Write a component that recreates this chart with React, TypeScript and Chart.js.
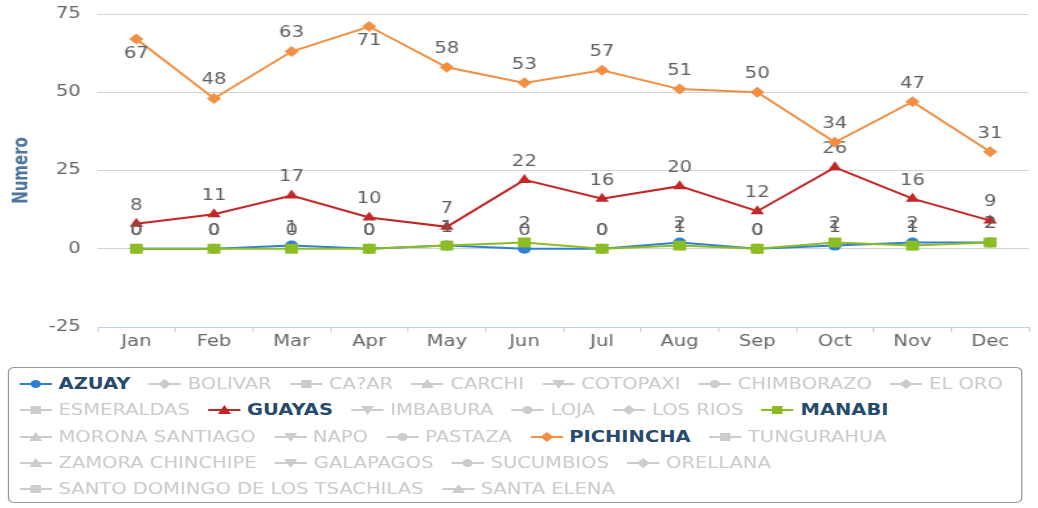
import React, { useEffect, useRef } from "react";
import { Chart, registerables } from "chart.js";

Chart.register(...registerables);

// ---------- data ----------
const months = ["Jan", "Feb", "Mar", "Apr", "May", "Jun", "Jul", "Aug", "Sep", "Oct", "Nov", "Dec"];
const azuay = [0, 0, 1, 0, 1, 0, 0, 2, 0, 1, 2, 2];
const guayas = [8, 11, 17, 10, 7, 22, 16, 20, 12, 26, 16, 9];
const manabi = [0, 0, 0, 0, 1, 2, 0, 1, 0, 2, 1, 2];
const pichincha = [67, 48, 63, 71, 58, 53, 57, 51, 50, 34, 47, 31];
const yTicks = [-25, 0, 25, 50, 75];
const yTitle = "Numero";

const provinces = [
  "AZUAY", "BOLIVAR", "CA?AR", "CARCHI", "COTOPAXI", "CHIMBORAZO", "EL ORO",
  "ESMERALDAS", "GUAYAS", "IMBABURA", "LOJA", "LOS RIOS", "MANABI",
  "MORONA SANTIAGO", "NAPO", "PASTAZA", "PICHINCHA", "TUNGURAHUA",
  "ZAMORA CHINCHIPE", "GALAPAGOS", "SUCUMBIOS", "ORELLANA",
  "SANTO DOMINGO DE LOS TSACHILAS", "SANTA ELENA",
];
const seriesValues: Record<string, number[]> = {
  AZUAY: azuay,
  GUAYAS: guayas,
  MANABI: manabi,
  PICHINCHA: pichincha,
};

// ---------- style ----------
const palette = ["#2f7ed8", "#0d233a", "#8bbc21", "#910000", "#1aadce", "#492970", "#f28f43", "#77a1e5", "#c42525", "#a6c96a"];
const markers = ["circle", "diamond", "square", "triangle", "triangle-down"];
const chartMarker: Record<string, string> = { circle: "circle", diamond: "rectRot", square: "rect", triangle: "triangle" };
const markerRadius: Record<string, number> = { circle: 5, diamond: 5.5, square: 7, triangle: 6 };
const legendRowCounts = [7, 6, 5, 4, 2];

const FONT = "'DejaVu Sans', Verdana, sans-serif";
const SX = 1.3;
const INNER_W = Math.round(1038 / SX);
const CANVAS_H = 360;

const pointLabels = {
  id: "pointLabels",
  afterDatasetDraw(chart: any, args: any) {
    const { ctx, chartArea } = chart;
    const ds = chart.data.datasets[args.index];
    ctx.save();
    ctx.font = `15px ${FONT}`;
    ctx.fillStyle = "#606060";
    ctx.textAlign = "center";
    ctx.textBaseline = "middle";
    args.meta.data.forEach((pt: any, i: number) => {
      let y = pt.y - 18;
      if (y - 8 < chartArea.top) y = pt.y + 15;
      ctx.fillText(String(ds.data[i]), pt.x, y);
    });
    ctx.restore();
  },
};

function LegendSymbol({ shape, color }: { shape: string; color: string }) {
  const cx = 12.5, cy = 6;
  let m: any;
  if (shape === "circle") m = <circle cx={cx} cy={cy} r={4} fill={color} />;
  else if (shape === "diamond") m = <polygon points={`${cx - 5},${cy} ${cx},${cy - 5} ${cx + 5},${cy} ${cx},${cy + 5}`} fill={color} />;
  else if (shape === "square") m = <rect x={cx - 4} y={cy - 4} width={8} height={8} fill={color} />;
  else if (shape === "triangle") m = <polygon points={`${cx},${cy - 5} ${cx + 5},${cy + 4} ${cx - 5},${cy + 4}`} fill={color} />;
  else m = <polygon points={`${cx},${cy + 5} ${cx + 5},${cy - 4} ${cx - 5},${cy - 4}`} fill={color} />;
  return (
    <svg width={25} height={12} style={{ display: "block", flex: "none" }}>
      <line x1={0} y1={cy} x2={25} y2={cy} stroke={color} strokeWidth={2} />
      {m}
    </svg>
  );
}

export default function App() {
  const canvasRef = useRef<HTMLCanvasElement>(null);

  useEffect(() => {
    const visible = provinces.filter((p) => seriesValues[p]);
    const datasets = visible.map((name) => {
      const idx = provinces.indexOf(name);
      const color = palette[idx % palette.length];
      const shape = markers[idx % markers.length];
      return {
        label: name,
        data: seriesValues[name],
        borderColor: color,
        backgroundColor: color,
        borderWidth: 2,
        pointStyle: chartMarker[shape],
        pointRadius: markerRadius[shape],
        pointBorderWidth: 0,
        pointBackgroundColor: color,
        tension: 0,
        order: provinces.length - idx,
      };
    });

    const chart = new Chart(canvasRef.current!, {
      type: "line",
      data: { labels: months, datasets },
      options: {
        animation: false,
        responsive: true,
        maintainAspectRatio: false,
        layout: { padding: { top: 14, right: 2, left: 0, bottom: 0 } },
        plugins: { legend: { display: false }, tooltip: { enabled: false } },
        scales: {
          x: {
            offset: true,
            grid: { display: true, drawOnChartArea: false, drawTicks: true, tickLength: 5, color: "#c0d0e0", offset: true },
            border: { display: true, color: "#c0d0e0", width: 1 },
            ticks: { color: "#666666", font: { family: FONT, size: 15 }, padding: 1, maxRotation: 0 },
            afterFit: (s: any) => { s.height = CANVAS_H - 327; },
          },
          y: {
            min: -25,
            max: 75,
            afterBuildTicks: (s: any) => { s.ticks = yTicks.map((v) => ({ value: v })); },
            grid: { color: "#d4d4d4", drawTicks: false, lineWidth: 1 },
            border: { display: false },
            ticks: { color: "#666666", font: { family: FONT, size: 15 }, padding: 13 },
            title: { display: true, text: yTitle, color: "#4d759e", font: { family: FONT, size: 15, weight: "bold" }, padding: { top: 8, bottom: 0 } },
            afterFit: (s: any) => {
              s.width = 75;
              s.paddingTop = 0;
              s.paddingBottom = 0;
            },
          },
        },
      },
      plugins: [pointLabels],
    });
    return () => chart.destroy();
  }, []);

  let start = 0;
  const rows = legendRowCounts.map((n) => {
    const r = provinces.slice(start, start + n).map((name, k) => ({ name, idx: start + k }));
    start += n;
    return r;
  });

  return (
    <div
      style={{
        position: "absolute", left: 0, top: 0, width: INNER_W, height: 508,
        transform: `scaleX(${1038 / INNER_W})`, transformOrigin: "0 0", fontFamily: FONT,
      }}
    >
      <div style={{ position: "absolute", left: 0, top: 0, width: INNER_W, height: CANVAS_H }}>
        <canvas ref={canvasRef} />
      </div>
      <div
        style={{
          position: "absolute", left: 6, top: 367, width: 780, height: 136, boxSizing: "border-box",
          border: "1px solid #999999", borderRadius: 5, paddingLeft: 8, paddingTop: 3, background: "#fff",
        }}
      >
        {rows.map((row, ri) => (
          <div key={ri} style={{ display: "flex", alignItems: "center", height: 26.25, whiteSpace: "nowrap" }}>
            {row.map(({ name, idx }) => {
              const on = !!seriesValues[name];
              const color = on ? palette[idx % palette.length] : "#cccccc";
              return (
                <div key={name} style={{ display: "flex", alignItems: "center", marginRight: 14 }}>
                  <LegendSymbol shape={markers[idx % markers.length]} color={color} />
                  <span
                    style={{
                      marginLeft: 5, fontSize: 15, lineHeight: "18px",
                      color: on ? "#274b6d" : "#cccccc", fontWeight: on ? "bold" : "normal",
                    }}
                  >
                    {name}
                  </span>
                </div>
              );
            })}
          </div>
        ))}
      </div>
    </div>
  );
}
